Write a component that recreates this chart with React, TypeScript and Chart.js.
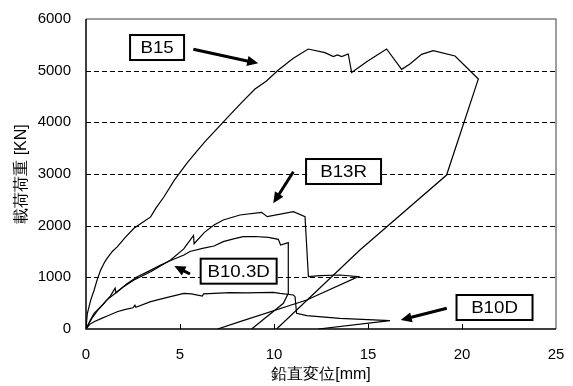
import React, { useEffect, useRef } from "react";
import { Chart, registerables } from "chart.js";

Chart.register(...registerables);

// ---- data (x: vertical displacement [mm], y: load [kN]) ----
const xTickValues = [0, 5, 10, 15, 20, 25];
const yTickValues = [0, 1000, 2000, 3000, 4000, 5000, 6000];

const b15X = [0, 0.07, 0.25, 0.43, 0.6, 0.78, 1.0, 1.13, 1.4, 1.66, 2.1, 2.55, 3.0, 3.44, 3.7, 4.15, 4.7, 5.36, 5.8, 6.33, 6.9, 7.57, 8.3, 8.99, 9.6, 10.23, 11.03, 11.82, 12.71, 13.16, 13.37, 13.6, 13.95, 14.13, 14.93, 15.99, 16.79, 17.23, 17.85, 18.47, 19.63, 20.87, 19.18, 14.57, 10.14];
const b15Y = [0, 300, 560, 750, 960, 1140, 1300, 1370, 1500, 1590, 1780, 1950, 2060, 2170, 2330, 2560, 2880, 3207, 3400, 3626, 3850, 4109, 4390, 4645, 4800, 5013, 5239, 5419, 5348, 5271, 5303, 5271, 5323, 4967, 5174, 5419, 5025, 5129, 5316, 5387, 5284, 4838, 2980, 1529, 0];

const b13rX = [0, 0.2, 0.43, 0.96, 1.3, 1.55, 1.6, 2.0, 2.55, 3.44, 4.5, 5.2, 5.72, 5.75, 6.3, 6.81, 7.3, 8.19, 9.34, 9.64, 11.03, 11.65, 11.83, 12.45, 13.5, 14.49, 11.74, 8.19, 7.0];
const b13rY = [0, 150, 303, 497, 640, 790, 700, 820, 948, 1109, 1335, 1550, 1810, 1650, 1870, 2013, 2110, 2206, 2258, 2174, 2271, 2174, 1013, 1032, 1045, 1013, 561, 142, 0];

const b103dX = [0, 0.3, 0.6, 1.1, 1.66, 2.2, 2.73, 3.4, 3.97, 4.6, 5.21, 5.53, 6.2, 6.81, 7.3, 7.9, 8.37, 9.0, 9.7, 10.23, 10.35, 10.76, 10.76, 10.5, 8.81];
const b103dY = [0, 200, 350, 560, 720, 880, 1013, 1130, 1239, 1340, 1432, 1500, 1560, 1606, 1690, 1750, 1787, 1790, 1774, 1735, 1626, 1671, 691, 497, 0];

const b10dX = [0, 0.2, 0.43, 0.8, 1.13, 1.66, 2.1, 2.5, 2.6, 2.65, 3.44, 4.33, 5.21, 5.6, 6.19, 6.25, 6.81, 7.66, 8.5, 9.96, 10.32, 11.03, 11.12, 11.2, 11.74, 13.51, 16.17, 12.35];
const b10dY = [0, 90, 141, 200, 251, 335, 380, 410, 460, 420, 529, 613, 690, 680, 639, 680, 690, 703, 700, 710, 690, 658, 626, 303, 258, 207, 161, 0];

// annotation labels (box centre and arrow in data coordinates)
const annotations = [
  { text: "B15", boxX: 3.78, boxY: 5448, boxW: 54, tailX: 5.71, tailY: 5413, tipX: 9.16, tipY: 5142 },
  { text: "B13R", boxX: 13.7, boxY: 3048, boxW: 75, tailX: 11.03, tailY: 3044, tipX: 9.96, tipY: 2433 },
  { text: "B10.3D", boxX: 8.12, boxY: 1119, boxW: 76, tailX: 5.53, tailY: 1064, tipX: 4.7, tipY: 1219 },
  { text: "B10D", boxX: 21.73, boxY: 416, boxW: 76, tailX: 19.19, tailY: 401, tipX: 16.74, tipY: 174 },
];

const FONT = "'Liberation Sans', Arial, sans-serif";

const toPoints = (xs: number[], ys: number[]) => xs.map((x, i) => ({ x, y: ys[i] }));

const gridPlugin = {
  id: "dashedGrid",
  beforeDatasetsDraw(chart: any) {
    const { ctx, chartArea } = chart;
    const ys = chart.scales.y;
    ctx.save();
    ctx.strokeStyle = "#000";
    ctx.lineWidth = 1;
    ctx.setLineDash([5, 3]);
    yTickValues.forEach((v) => {
      if (v === 0 || v === 6000) return;
      const py = Math.round(ys.getPixelForValue(v)) + 0.5;
      ctx.beginPath();
      ctx.moveTo(chartArea.left, py);
      ctx.lineTo(chartArea.right, py);
      ctx.stroke();
    });
    ctx.restore();
  },
};

const framePlugin = {
  id: "frameAndNotes",
  afterDraw(chart: any) {
    const { ctx, chartArea } = chart;
    const xs = chart.scales.x;
    const ys = chart.scales.y;
    const { left, right, top, bottom } = chartArea;
    ctx.save();
    ctx.setLineDash([]);
    // top/right frame (gray)
    ctx.strokeStyle = "#7f7f7f";
    ctx.lineWidth = 1.5;
    ctx.beginPath();
    ctx.moveTo(left, top);
    ctx.lineTo(right, top);
    ctx.lineTo(right, bottom);
    ctx.stroke();
    // left/bottom axes (black)
    ctx.strokeStyle = "#000";
    ctx.lineWidth = 1.5;
    ctx.beginPath();
    ctx.moveTo(left, top);
    ctx.lineTo(left, bottom);
    ctx.lineTo(right, bottom);
    ctx.stroke();
    // inward x ticks
    ctx.lineWidth = 1;
    xTickValues.forEach((v) => {
      if (v === 0 || v === 25) return;
      const px = Math.round(xs.getPixelForValue(v)) + 0.5;
      ctx.beginPath();
      ctx.moveTo(px, bottom);
      ctx.lineTo(px, bottom - 5);
      ctx.stroke();
    });

    // annotations
    annotations.forEach((a) => {
      const cx = xs.getPixelForValue(a.boxX);
      const cy = ys.getPixelForValue(a.boxY);
      const h = 25;
      ctx.fillStyle = "#fff";
      ctx.fillRect(cx - a.boxW / 2, cy - h / 2, a.boxW, h);
      ctx.strokeStyle = "#000";
      ctx.lineWidth = 2;
      ctx.strokeRect(cx - a.boxW / 2, cy - h / 2, a.boxW, h);
      ctx.save();
      ctx.translate(cx, cy + 1);
      ctx.scale(1.1, 1);
      ctx.fillStyle = "#000";
      ctx.font = `17px ${FONT}`;
      ctx.textAlign = "center";
      ctx.textBaseline = "middle";
      ctx.fillText(a.text, 0, 0);
      ctx.restore();

      // arrow
      const x1 = xs.getPixelForValue(a.tailX);
      const y1 = ys.getPixelForValue(a.tailY);
      const x2 = xs.getPixelForValue(a.tipX);
      const y2 = ys.getPixelForValue(a.tipY);
      const ang = Math.atan2(y2 - y1, x2 - x1);
      const headL = 11;
      const headW = 5;
      const bx = x2 - headL * Math.cos(ang);
      const by = y2 - headL * Math.sin(ang);
      ctx.strokeStyle = "#000";
      ctx.lineWidth = 3;
      ctx.beginPath();
      ctx.moveTo(x1, y1);
      ctx.lineTo(bx + 2 * Math.cos(ang), by + 2 * Math.sin(ang));
      ctx.stroke();
      ctx.fillStyle = "#000";
      ctx.beginPath();
      ctx.moveTo(x2, y2);
      ctx.lineTo(bx + headW * Math.sin(ang), by - headW * Math.cos(ang));
      ctx.lineTo(bx - headW * Math.sin(ang), by + headW * Math.cos(ang));
      ctx.closePath();
      ctx.fill();
    });
    ctx.restore();
  },
};

export default function App() {
  const canvasRef = useRef<HTMLCanvasElement | null>(null);

  useEffect(() => {
    if (!canvasRef.current) return;
    const lineStyle = {
      borderColor: "#000",
      borderWidth: 1.2,
      pointRadius: 0,
      showLine: true,
      tension: 0,
      fill: false,
    };
    const hiddenGrid = (len: number) => ({
      display: true,
      drawOnChartArea: false,
      drawTicks: true,
      tickLength: len,
      color: "rgba(0,0,0,0)",
    });
    const chart = new Chart(canvasRef.current, {
      type: "scatter",
      data: {
        datasets: [
          { label: "B15", data: toPoints(b15X, b15Y), ...lineStyle },
          { label: "B13R", data: toPoints(b13rX, b13rY), ...lineStyle },
          { label: "B10.3D", data: toPoints(b103dX, b103dY), ...lineStyle },
          { label: "B10D", data: toPoints(b10dX, b10dY), ...lineStyle },
        ],
      },
      options: {
        animation: false,
        responsive: true,
        maintainAspectRatio: false,
        layout: { padding: { top: 19, right: 17, bottom: 0, left: 12 } },
        plugins: {
          legend: { display: false },
          tooltip: { enabled: false },
        },
        scales: {
          x: {
            type: "linear",
            min: 0,
            max: 25,
            afterBuildTicks: (scale: any) => {
              scale.ticks = xTickValues.map((v) => ({ value: v }));
            },
            afterFit: (scale: any) => {
              scale.height = 57;
            },
            grid: hiddenGrid(17),
            border: { display: false },
            ticks: {
              color: "#000",
              font: { family: FONT, size: 15 },
              padding: 0,
              maxRotation: 0,
              callback: (v: any) => String(v),
            },
            title: {
              display: true,
              text: "鉛直変位[mm]",
              color: "#000",
              font: { family: FONT, size: 16 },
              padding: { top: 0, bottom: 2 },
            },
          },
          y: {
            type: "linear",
            min: 0,
            max: 6000,
            afterBuildTicks: (scale: any) => {
              scale.ticks = yTickValues.map((v) => ({ value: v }));
            },
            afterFit: (scale: any) => {
              scale.width = 74;
            },
            grid: hiddenGrid(15),
            border: { display: false },
            ticks: {
              color: "#000",
              font: { family: FONT, size: 15 },
              padding: 0,
              callback: (v: any) => String(v),
            },
            title: {
              display: true,
              text: "載荷荷重 [KN]",
              color: "#000",
              font: { family: FONT, size: 16 },
              padding: { top: 0, bottom: 0 },
            },
          },
        },
      },
      plugins: [gridPlugin, framePlugin],
    } as any);
    return () => chart.destroy();
  }, []);

  return (
    <div style={{ position: "absolute", left: 0, top: 0, width: 573, height: 386, background: "#fff" }}>
      <canvas ref={canvasRef} />
    </div>
  );
}
